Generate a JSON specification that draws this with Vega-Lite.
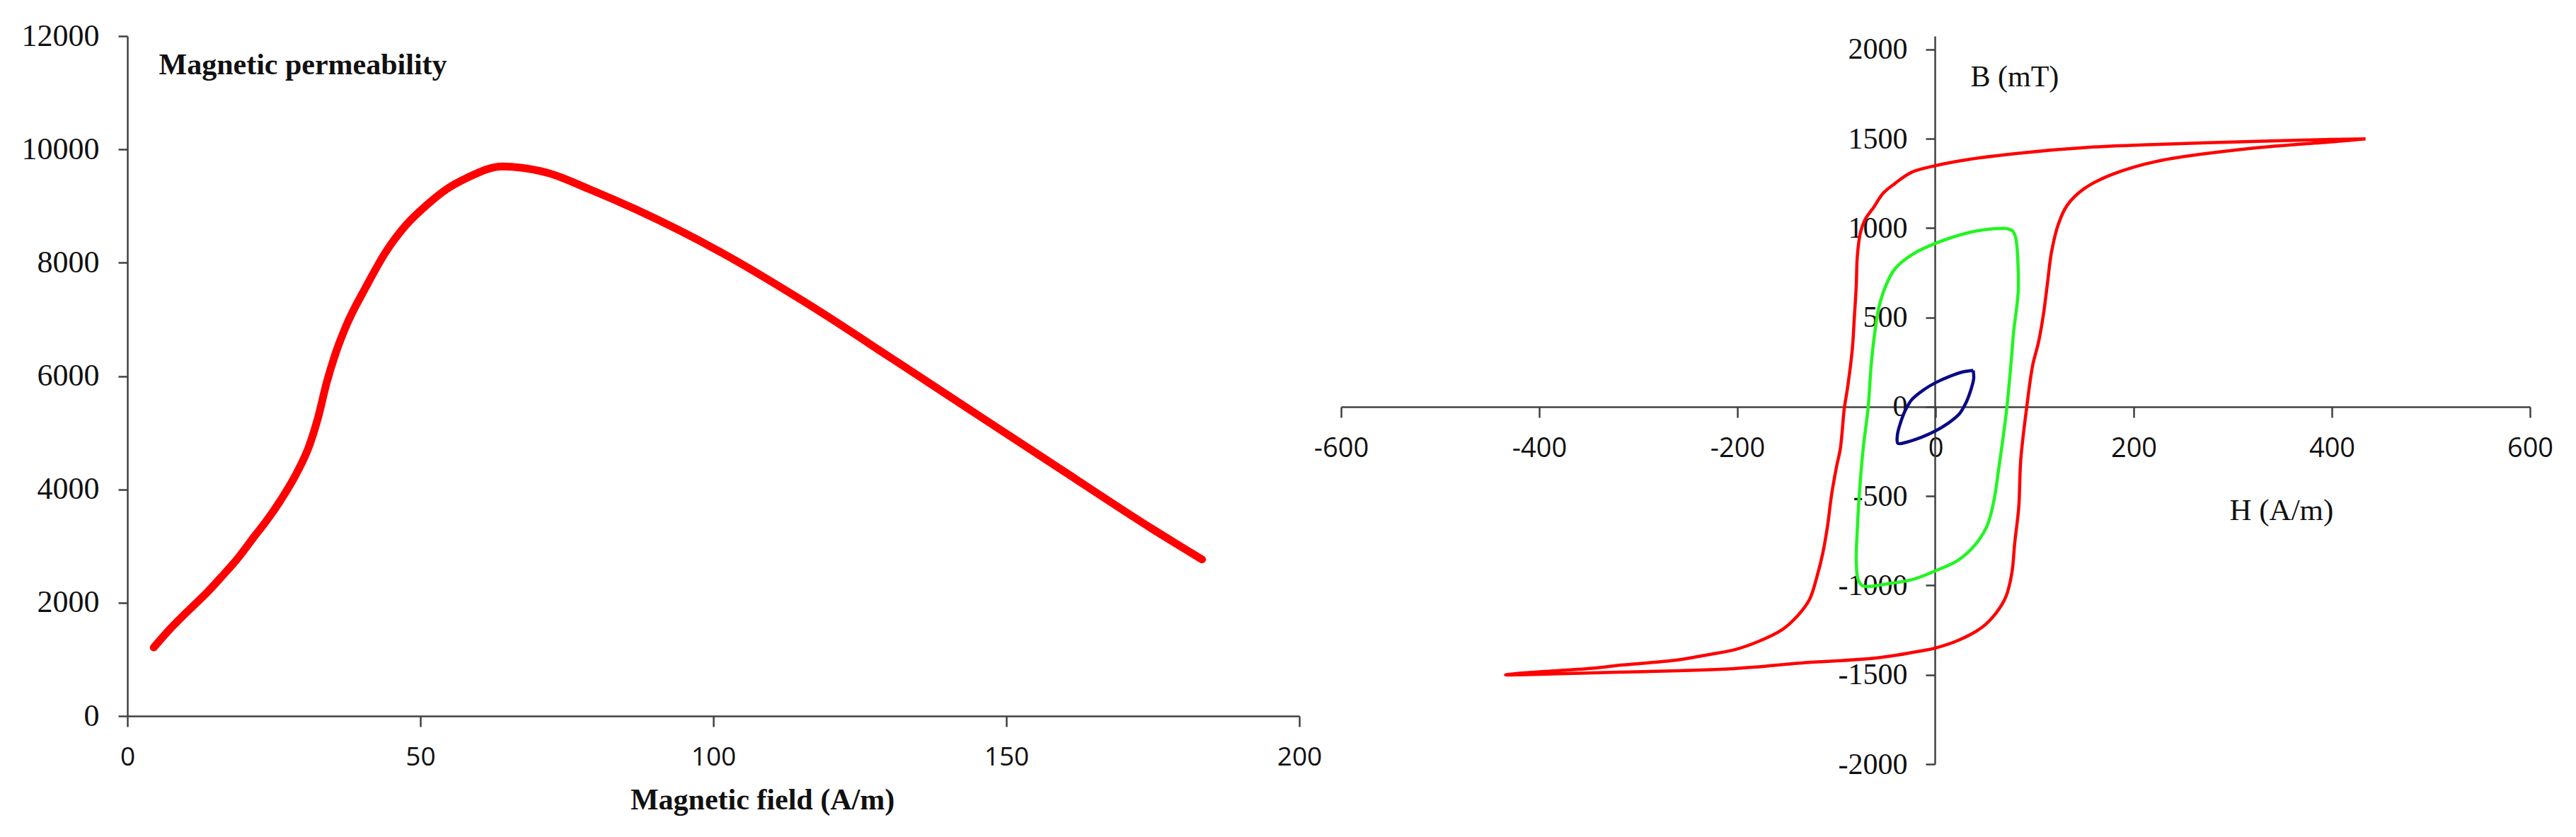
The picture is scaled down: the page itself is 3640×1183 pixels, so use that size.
{
  "$schema": "https://vega.github.io/schema/vega-lite/v6.json",
  "background": "white",
  "padding": {"left": 30, "top": 29, "right": 5, "bottom": 5},
  "bounds": "flush",
  "spacing": 59,
  "config": {
    "view": {"stroke": null},
    "axis": {
      "grid": false,
      "domainColor": "#404040",
      "tickColor": "#404040",
      "domainWidth": 2.5,
      "tickWidth": 2.5,
      "labelColor": "#111111",
      "titleColor": "#111111",
      "labelFlush": false,
      "labelOverlap": false,
      "labelExpr": "'' + datum.value"
    }
  },
  "datasets": {
    "mu": [
      {"H": 4.5, "mu": 1210},
      {"H": 7.5, "mu": 1560},
      {"H": 10.8, "mu": 1900},
      {"H": 13.6, "mu": 2180},
      {"H": 16.0, "mu": 2450},
      {"H": 18.5, "mu": 2740},
      {"H": 21.9, "mu": 3200},
      {"H": 23.7, "mu": 3440},
      {"H": 26.1, "mu": 3800},
      {"H": 28.9, "mu": 4290},
      {"H": 31.0, "mu": 4760},
      {"H": 32.5, "mu": 5250},
      {"H": 34.0, "mu": 5880},
      {"H": 35.6, "mu": 6420},
      {"H": 37.4, "mu": 6900},
      {"H": 40.7, "mu": 7570},
      {"H": 44.1, "mu": 8190},
      {"H": 47.6, "mu": 8670},
      {"H": 51.0, "mu": 9010},
      {"H": 54.5, "mu": 9300},
      {"H": 58.0, "mu": 9500},
      {"H": 64.0, "mu": 9700},
      {"H": 71.9, "mu": 9580},
      {"H": 78.8, "mu": 9300},
      {"H": 87.0, "mu": 8930},
      {"H": 101.6, "mu": 8167},
      {"H": 116.2, "mu": 7268},
      {"H": 130.9, "mu": 6281},
      {"H": 145.5, "mu": 5288},
      {"H": 160.1, "mu": 4299},
      {"H": 174.8, "mu": 3309},
      {"H": 183.4, "mu": 2763}
    ],
    "loops": [
      {"loop": "red", "i": 0, "H": 434, "B": 1500},
      {"loop": "red", "i": 1, "H": 380, "B": 1494},
      {"loop": "red", "i": 2, "H": 318, "B": 1485},
      {"loop": "red", "i": 3, "H": 226, "B": 1469},
      {"loop": "red", "i": 4, "H": 154, "B": 1452},
      {"loop": "red", "i": 5, "H": 83, "B": 1419},
      {"loop": "red", "i": 6, "H": 35, "B": 1386},
      {"loop": "red", "i": 7, "H": 0, "B": 1350},
      {"loop": "red", "i": 8, "H": -24, "B": 1313},
      {"loop": "red", "i": 9, "H": -41, "B": 1250},
      {"loop": "red", "i": 10, "H": -53, "B": 1195},
      {"loop": "red", "i": 11, "H": -62, "B": 1120},
      {"loop": "red", "i": 12, "H": -71, "B": 1049},
      {"loop": "red", "i": 13, "H": -76, "B": 970},
      {"loop": "red", "i": 14, "H": -79, "B": 838},
      {"loop": "red", "i": 15, "H": -80, "B": 680},
      {"loop": "red", "i": 16, "H": -82, "B": 495},
      {"loop": "red", "i": 17, "H": -84, "B": 323},
      {"loop": "red", "i": 18, "H": -89, "B": 99},
      {"loop": "red", "i": 19, "H": -92, "B": -4},
      {"loop": "red", "i": 20, "H": -96, "B": -231},
      {"loop": "red", "i": 21, "H": -100, "B": -337},
      {"loop": "red", "i": 22, "H": -105, "B": -495},
      {"loop": "red", "i": 23, "H": -109, "B": -667},
      {"loop": "red", "i": 24, "H": -114, "B": -825},
      {"loop": "red", "i": 25, "H": -120, "B": -957},
      {"loop": "red", "i": 26, "H": -127, "B": -1076},
      {"loop": "red", "i": 27, "H": -139, "B": -1168},
      {"loop": "red", "i": 28, "H": -155, "B": -1248},
      {"loop": "red", "i": 29, "H": -179, "B": -1314},
      {"loop": "red", "i": 30, "H": -203, "B": -1360},
      {"loop": "red", "i": 31, "H": -226, "B": -1384},
      {"loop": "red", "i": 32, "H": -262, "B": -1418},
      {"loop": "red", "i": 33, "H": -318, "B": -1446},
      {"loop": "red", "i": 34, "H": -344, "B": -1462},
      {"loop": "red", "i": 35, "H": -404, "B": -1485},
      {"loop": "red", "i": 36, "H": -434, "B": -1500},
      {"loop": "red", "i": 37, "H": -380, "B": -1494},
      {"loop": "red", "i": 38, "H": -318, "B": -1485},
      {"loop": "red", "i": 39, "H": -203, "B": -1465},
      {"loop": "red", "i": 40, "H": -131, "B": -1432},
      {"loop": "red", "i": 41, "H": -60, "B": -1406},
      {"loop": "red", "i": 42, "H": -12, "B": -1364},
      {"loop": "red", "i": 43, "H": 0, "B": -1350},
      {"loop": "red", "i": 44, "H": 23, "B": -1307},
      {"loop": "red", "i": 45, "H": 47, "B": -1234},
      {"loop": "red", "i": 46, "H": 61, "B": -1155},
      {"loop": "red", "i": 47, "H": 71, "B": -1063},
      {"loop": "red", "i": 48, "H": 77, "B": -931},
      {"loop": "red", "i": 49, "H": 80, "B": -759},
      {"loop": "red", "i": 50, "H": 84, "B": -561},
      {"loop": "red", "i": 51, "H": 86, "B": -297},
      {"loop": "red", "i": 52, "H": 92, "B": -4},
      {"loop": "red", "i": 53, "H": 98, "B": 231},
      {"loop": "red", "i": 54, "H": 104, "B": 363},
      {"loop": "red", "i": 55, "H": 109, "B": 521},
      {"loop": "red", "i": 56, "H": 113, "B": 693},
      {"loop": "red", "i": 57, "H": 117, "B": 865},
      {"loop": "red", "i": 58, "H": 124, "B": 1023},
      {"loop": "red", "i": 59, "H": 133, "B": 1129},
      {"loop": "red", "i": 60, "H": 150, "B": 1221},
      {"loop": "red", "i": 61, "H": 178, "B": 1300},
      {"loop": "red", "i": 62, "H": 226, "B": 1377},
      {"loop": "red", "i": 63, "H": 318, "B": 1446},
      {"loop": "red", "i": 64, "H": 404, "B": 1485},
      {"loop": "red", "i": 65, "H": 434, "B": 1500},
      {"loop": "green", "i": 0, "H": 71, "B": 999},
      {"loop": "green", "i": 1, "H": 59, "B": 997},
      {"loop": "green", "i": 2, "H": 35, "B": 977},
      {"loop": "green", "i": 3, "H": 0, "B": 915},
      {"loop": "green", "i": 4, "H": -24, "B": 851},
      {"loop": "green", "i": 5, "H": -41, "B": 772},
      {"loop": "green", "i": 6, "H": -50, "B": 680},
      {"loop": "green", "i": 7, "H": -57, "B": 561},
      {"loop": "green", "i": 8, "H": -61, "B": 429},
      {"loop": "green", "i": 9, "H": -65, "B": 231},
      {"loop": "green", "i": 10, "H": -68, "B": -4},
      {"loop": "green", "i": 11, "H": -73, "B": -231},
      {"loop": "green", "i": 12, "H": -77, "B": -495},
      {"loop": "green", "i": 13, "H": -79, "B": -693},
      {"loop": "green", "i": 14, "H": -80, "B": -865},
      {"loop": "green", "i": 15, "H": -78, "B": -970},
      {"loop": "green", "i": 16, "H": -73, "B": -1003},
      {"loop": "green", "i": 17, "H": -48, "B": -990},
      {"loop": "green", "i": 18, "H": -24, "B": -968},
      {"loop": "green", "i": 19, "H": 0, "B": -918},
      {"loop": "green", "i": 20, "H": 23, "B": -858},
      {"loop": "green", "i": 21, "H": 40, "B": -772},
      {"loop": "green", "i": 22, "H": 52, "B": -667},
      {"loop": "green", "i": 23, "H": 59, "B": -522},
      {"loop": "green", "i": 24, "H": 64, "B": -337},
      {"loop": "green", "i": 25, "H": 69, "B": -139},
      {"loop": "green", "i": 26, "H": 72, "B": -4},
      {"loop": "green", "i": 27, "H": 76, "B": 231},
      {"loop": "green", "i": 28, "H": 79, "B": 429},
      {"loop": "green", "i": 29, "H": 82, "B": 561},
      {"loop": "green", "i": 30, "H": 83.5, "B": 653},
      {"loop": "green", "i": 31, "H": 83, "B": 825},
      {"loop": "green", "i": 32, "H": 81, "B": 944},
      {"loop": "green", "i": 33, "H": 78, "B": 983},
      {"loop": "green", "i": 34, "H": 71, "B": 999},
      {"loop": "blue", "i": 0, "H": 38, "B": 204},
      {"loop": "blue", "i": 1, "H": 28, "B": 196},
      {"loop": "blue", "i": 2, "H": 14, "B": 170},
      {"loop": "blue", "i": 3, "H": 0, "B": 135},
      {"loop": "blue", "i": 4, "H": -12, "B": 95},
      {"loop": "blue", "i": 5, "H": -24, "B": 40},
      {"loop": "blue", "i": 6, "H": -30.5, "B": -20},
      {"loop": "blue", "i": 7, "H": -35.5, "B": -92},
      {"loop": "blue", "i": 8, "H": -38.5, "B": -158},
      {"loop": "blue", "i": 9, "H": -38, "B": -204},
      {"loop": "blue", "i": 10, "H": -28, "B": -196},
      {"loop": "blue", "i": 11, "H": -14, "B": -170},
      {"loop": "blue", "i": 12, "H": 0, "B": -135},
      {"loop": "blue", "i": 13, "H": 12, "B": -95},
      {"loop": "blue", "i": 14, "H": 24, "B": -40},
      {"loop": "blue", "i": 15, "H": 30.5, "B": 20},
      {"loop": "blue", "i": 16, "H": 35.5, "B": 92},
      {"loop": "blue", "i": 17, "H": 38.5, "B": 158},
      {"loop": "blue", "i": 18, "H": 38, "B": 204}
    ]
  },
  "hconcat": [
    {
      "data": {"name": "mu"},
      "width": 1656,
      "height": 961,
      "mark": {"type": "line", "color": "#FF0000", "strokeWidth": 11, "interpolate": "monotone", "strokeCap": "round"},
      "encoding": {
        "x": {
          "field": "H", "type": "quantitative",
          "scale": {"domain": [0, 200], "nice": false},
          "axis": {
            "values": [0, 50, 100, 150, 200],
            "title": "Magnetic field (A/m)",
            "titleFont": "Liberation Serif", "titleFontWeight": "bold", "titleFontSize": 42,
            "titleX": 897, "titleY": 131, "titleAlign": "center", "titleBaseline": "alphabetic",
            "labelFont": "Open Sans", "labelFontSize": 37,
            "tickSize": 15, "labelPadding": 25
          }
        },
        "y": {
          "field": "mu", "type": "quantitative",
          "scale": {"domain": [0, 12000], "nice": false},
          "axis": {
            "values": [0, 2000, 4000, 6000, 8000, 10000, 12000],
            "title": "Magnetic permeability",
            "titleFont": "Liberation Serif", "titleFontWeight": "bold", "titleFontSize": 42,
            "titleAngle": 0, "titleX": 44, "titleY": 53, "titleAlign": "left", "titleBaseline": "alphabetic",
            "labelFont": "Liberation Serif", "labelFontSize": 44,
            "tickSize": 13, "labelPadding": 27
          }
        }
      }
    },
    {
      "data": {"name": "loops"},
      "width": 1680,
      "height": 1029,
      "mark": {"type": "line", "strokeWidth": 4.5, "interpolate": "catmull-rom", "strokeJoin": "round"},
      "encoding": {
        "x": {
          "field": "H", "type": "quantitative",
          "scale": {"domain": [-600, 600], "nice": false},
          "axis": {
            "values": [-600, -400, -200, 0, 200, 400, 600],
            "offset": -505,
            "title": "H (A/m)",
            "titleFont": "Liberation Serif", "titleFontWeight": "normal", "titleFontSize": 43,
            "titleX": 1255, "titleY": 159, "titleAlign": "left", "titleBaseline": "alphabetic",
            "labelFont": "Open Sans", "labelFontSize": 38,
            "tickSize": 15, "labelPadding": 25
          }
        },
        "y": {
          "field": "B", "type": "quantitative",
          "scale": {"domain": [-2000, 2075], "nice": false, "zero": false},
          "axis": {
            "values": [-2000, -1500, -1000, -500, 0, 500, 1000, 1500, 2000],
            "offset": -839,
            "title": "B (mT)",
            "titleFont": "Liberation Serif", "titleFontWeight": "normal", "titleFontSize": 42,
            "titleAngle": 0, "titleX": 50, "titleY": 70, "titleAlign": "left", "titleBaseline": "alphabetic",
            "labelFont": "Liberation Serif", "labelFontSize": 42,
            "tickSize": 13, "labelPadding": 26
          }
        },
        "color": {
          "field": "loop", "type": "nominal",
          "scale": {"domain": ["red", "green", "blue"], "range": ["#FF0000", "#22F522", "#0A0A85"]},
          "legend": null
        },
        "order": {"field": "i", "type": "quantitative"}
      }
    }
  ]
}
